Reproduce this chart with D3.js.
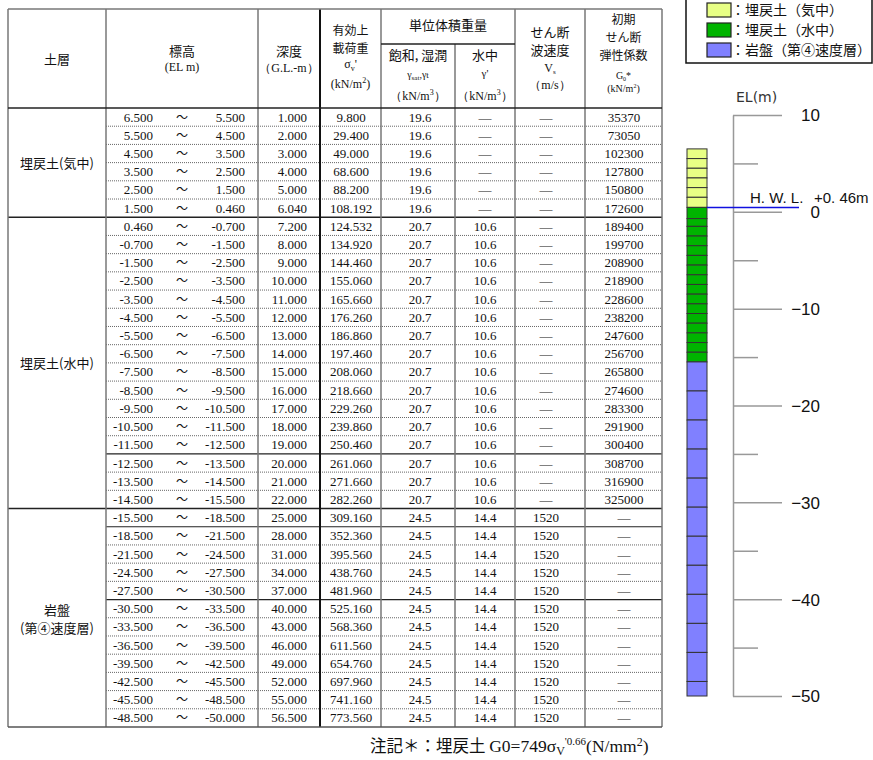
<!DOCTYPE html>
<html>
<head>
<meta charset="utf-8">
<script src="https://cdn.jsdelivr.net/npm/d3@7"></script>
<style>
body { margin: 0; background: #fff; }
text { fill: #111; }
</style>
</head>
<body>
<div id="chart"></div>
<script>
// layers
const layerNames = ["埋戻土(気中)", "埋戻土(水中)", "岩盤"];
const layerNotes = ["", "", "(第④速度層)"];
const legendNames = ["：埋戻土（気中）", "：埋戻土（水中）", "：岩盤（第④速度層）"];
const layerRows = [6, 16, 12];
const layerColors = ["#e8ff85", "#00b400", "#8080ff"];
const gammaSat = [19.6, 20.7, 24.5];
const gammaSub = [null, 10.6, 14.4];
const vsLayer = [null, null, 1520];

// rows
const elTop = [6.5, 5.5, 4.5, 3.5, 2.5, 1.5,
  0.46, -0.7, -1.5, -2.5, -3.5, -4.5, -5.5, -6.5, -7.5, -8.5, -9.5, -10.5, -11.5, -12.5, -13.5, -14.5,
  -15.5, -18.5, -21.5, -24.5, -27.5, -30.5, -33.5, -36.5, -39.5, -42.5, -45.5, -48.5];
const elBottom = [5.5, 4.5, 3.5, 2.5, 1.5, 0.46,
  -0.7, -1.5, -2.5, -3.5, -4.5, -5.5, -6.5, -7.5, -8.5, -9.5, -10.5, -11.5, -12.5, -13.5, -14.5, -15.5,
  -18.5, -21.5, -24.5, -27.5, -30.5, -33.5, -36.5, -39.5, -42.5, -45.5, -48.5, -50];
const depth = [1, 2, 3, 4, 5, 6.04,
  7.2, 8, 9, 10, 11, 12, 13, 14, 15, 16, 17, 18, 19, 20, 21, 22,
  25, 28, 31, 34, 37, 40, 43, 46, 49, 52, 55, 56.5];
const sigmaV = [9.8, 29.4, 49, 68.6, 88.2, 108.192,
  124.532, 134.92, 144.46, 155.06, 165.66, 176.26, 186.86, 197.46, 208.06, 218.66, 229.26, 239.86, 250.46, 261.06, 271.66, 282.26,
  309.16, 352.36, 395.56, 438.76, 481.96, 525.16, 568.36, 611.56, 654.76, 697.96, 741.16, 773.56];
const g0 = [35370, 73050, 102300, 127800, 150800, 172600,
  189400, 199700, 208900, 218900, 228600, 238200, 247600, 256700, 265800, 274600, 283300, 291900, 300400, 308700, 316900, 325000,
  null, null, null, null, null, null, null, null, null, null, null, null];
const solidAfter = [18, 22, 26];

// axis
const elTicks = [10, 5, 0, -5, -10, -15, -20, -25, -30, -35, -40, -45, -50];

const W = 873, H = 760;
const svg = d3.select("#chart").append("svg")
  .attr("width", W).attr("height", H);

const serif = "'Liberation Serif', 'Times New Roman', serif";
const cjk = "'Noto Sans CJK JP', sans-serif";
const dash = "—";
const f3 = v => v.toFixed(3);

// build rows
const rows = [];
let k = 0;
layerRows.forEach(function(n, li) {
  for (let i = 0; i < n; i++, k++) {
    rows.push({
      i: k, layer: li,
      top: elTop[k], bottom: elBottom[k], depth: depth[k], sigma: sigmaV[k],
      gsat: gammaSat[li], gsub: gammaSub[li], vs: vsLayer[li], g0: g0[k]
    });
  }
});

const colX = [8, 106, 258, 320, 381, 455, 515, 585, 662];
const tableTop = 9, headBottom = 108, tableBottom = 727, subHead = 44;
const rowY = d3.scaleLinear().domain([0, rows.length]).range([headBottom, tableBottom]);

const table = svg.append("g");

// row text
const rg = table.selectAll("g.row").data(rows).enter().append("g")
  .attr("transform", d => "translate(0," + ((rowY(d.i) + rowY(d.i + 1)) / 2 + 4.5) + ")")
  .style("font-family", serif).style("font-size", "13px");

rg.append("text").attr("x", 153).attr("text-anchor", "end").text(d => f3(d.top));
rg.append("text").attr("x", 182).attr("text-anchor", "middle").style("font-family", cjk)
  .style("font-size", "12px").text("～");
rg.append("text").attr("x", 245).attr("text-anchor", "end").text(d => f3(d.bottom));
rg.append("text").attr("x", 307).attr("text-anchor", "end").text(d => f3(d.depth));
rg.append("text").attr("x", 351).attr("text-anchor", "middle").text(d => f3(d.sigma));
rg.append("text").attr("x", 420).attr("text-anchor", "middle").text(d => d.gsat.toFixed(1));
rg.append("text").attr("x", 485).attr("text-anchor", "middle").text(d => d.gsub == null ? dash : d.gsub.toFixed(1));
rg.append("text").attr("x", 546).attr("text-anchor", "middle").text(d => d.vs == null ? dash : d.vs);
rg.append("text").attr("x", 624).attr("text-anchor", "middle").text(d => d.g0 == null ? dash : d.g0);

// row separators
rows.slice(0, -1).forEach(function(d) {
  const y = rowY(d.i + 1);
  if (rows[d.i + 1].layer !== d.layer) return;
  const solid = solidAfter.indexOf(d.i) >= 0;
  table.append("line")
    .attr("x1", colX[1]).attr("x2", colX[8]).attr("y1", y).attr("y2", y)
    .attr("stroke", solid ? "#222" : "#666")
    .attr("stroke-width", solid ? 1.2 : 1)
    .attr("stroke-dasharray", solid ? null : "1,1");
});

// layer boundaries + names
let acc = 0;
layerRows.forEach(function(n, li) {
  const y0 = rowY(acc), y1 = rowY(acc + n);
  acc += n;
  if (li < layerRows.length - 1) {
    table.append("line").attr("x1", colX[0]).attr("x2", colX[8]).attr("y1", y1).attr("y2", y1)
      .attr("stroke", "#222").attr("stroke-width", 1.5);
  }
  const cy = (y0 + y1) / 2;
  const t = table.append("text").attr("x", 57).attr("text-anchor", "middle")
    .style("font-family", cjk).style("font-size", "13px");
  if (layerNotes[li]) {
    t.attr("y", cy - 3).text(layerNames[li]);
    table.append("text").attr("x", 57).attr("y", cy + 15).attr("text-anchor", "middle")
      .style("font-family", cjk).style("font-size", "13px").text(layerNotes[li]);
  } else {
    t.attr("y", cy + 5).text(layerNames[li]);
  }
});

// vertical lines
colX.forEach(function(x, i) {
  table.append("line").attr("x1", x).attr("x2", x)
    .attr("y1", i === 5 ? subHead : tableTop).attr("y2", tableBottom)
    .attr("stroke", i === 3 ? "#111" : "#777")
    .attr("stroke-width", i === 3 ? 2 : 1.5);
});
table.append("line").attr("x1", colX[0]).attr("x2", colX[8]).attr("y1", tableTop).attr("y2", tableTop)
  .attr("stroke", "#777").attr("stroke-width", 1.5);
table.append("line").attr("x1", colX[0]).attr("x2", colX[8]).attr("y1", tableBottom).attr("y2", tableBottom)
  .attr("stroke", "#555").attr("stroke-width", 1.5);
table.append("line").attr("x1", colX[0]).attr("x2", colX[8]).attr("y1", headBottom).attr("y2", headBottom)
  .attr("stroke", "#222").attr("stroke-width", 1.5);
table.append("line").attr("x1", colX[4]).attr("x2", colX[6]).attr("y1", subHead).attr("y2", subHead)
  .attr("stroke", "#222").attr("stroke-width", 1.5);

// header
const head = table.append("g");
function htext(x, y, s, font, size) {
  return head.append("text").attr("x", x).attr("y", y).attr("text-anchor", "middle")
    .style("font-family", font || cjk).style("font-size", size || "13px").text(s);
}
htext(57, 64, "土層");
htext(182, 56, "標高");
htext(182, 71, "(EL m)", serif, "12px");
htext(289, 56, "深度");
htext(289, 72, "（G.L.-m）", serif, "12px");
htext(350.5, 35, "有効上", cjk, "12px");
htext(350.5, 53, "載荷重", cjk, "12px");
let t = htext(350.5, 68, "σ", serif, "12px");
t.append("tspan").attr("dy", 3).style("font-size", "8px").text("v");
t.append("tspan").attr("dy", -3).text("'");
t = htext(350.5, 88, "(kN/m", serif, "12px");
t.append("tspan").attr("dy", -5).style("font-size", "8px").text("2");
t.append("tspan").attr("dy", 5).text(")");
htext(448, 30, "単位体積重量");
htext(418, 60, "飽和, 湿潤");
t = htext(418, 78, "γ", serif, "10px");
t.append("tspan").attr("dy", 2).style("font-size", "7px").text("sat");
t.append("tspan").attr("dy", -2).text(",γ");
t.append("tspan").style("font-size", "9px").text("t");
t = htext(418, 100, "（kN/m", serif, "12px");
t.append("tspan").attr("dy", -5).style("font-size", "8px").text("3");
t.append("tspan").attr("dy", 5).text("）");
htext(485, 60, "水中");
htext(485, 77, "γ'", serif, "11px");
t = htext(485, 100, "（kN/m", serif, "12px");
t.append("tspan").attr("dy", -5).style("font-size", "8px").text("3");
t.append("tspan").attr("dy", 5).text("）");
htext(550, 37, "せん断");
htext(550, 55, "波速度");
t = htext(550, 72, "V", serif, "12px");
t.append("tspan").attr("dy", 2).style("font-size", "7px").text("s");
htext(550, 89, "（m/s）", serif, "12px");
htext(623.5, 24, "初期", cjk, "12px");
htext(623.5, 42, "せん断", cjk, "12px");
htext(623.5, 60, "弾性係数", cjk, "12px");
t = htext(623.5, 79, "G", serif, "10px");
t.append("tspan").attr("dy", 2).style("font-size", "6px").text("0");
t.append("tspan").attr("dy", -2).text("*");
t = htext(623.5, 92, "(kN/m", serif, "10px");
t.append("tspan").attr("dy", -4).style("font-size", "6px").text("2");
t.append("tspan").attr("dy", 4).text(")");

// footnote
const note = svg.append("text").attr("x", 370).attr("y", 752)
  .style("font-family", cjk).style("font-size", "16.5px");
note.append("tspan").text("注記＊：埋戻土 ");
note.append("tspan").style("font-family", serif).style("font-size", "17.5px").text("G0=749σ");
note.append("tspan").style("font-family", serif).style("font-size", "12px").attr("dy", 3).text("V");
note.append("tspan").style("font-family", serif).style("font-size", "11px").attr("dy", -10).text("'0.66");
note.append("tspan").style("font-family", serif).style("font-size", "17.5px").attr("dy", 7).text("(N/mm");
note.append("tspan").style("font-family", serif).style("font-size", "12px").attr("dy", -6).text("2");
note.append("tspan").style("font-family", serif).style("font-size", "17.5px").attr("dy", 6).text(")");

// elevation column
const y = d3.scaleLinear().domain([10, -50]).range([115, 696]);
const colLeft = 687, colRight = 707;
const axisX = 733;

svg.append("g").selectAll("rect").data(rows).enter().append("rect")
  .attr("x", colLeft).attr("width", colRight - colLeft)
  .attr("y", d => y(d.top)).attr("height", d => y(d.bottom) - y(d.top))
  .attr("fill", d => layerColors[d.layer])
  .attr("stroke", "#333").attr("stroke-width", 1);

// axis
const ax = svg.append("g").attr("transform", "translate(" + axisX + ",0)")
  .call(d3.axisRight(y).tickValues(elTicks).tickSizeOuter(0).tickSize(0).tickFormat(""));
ax.select(".domain").attr("stroke", "#999").attr("stroke-width", 1.5);
ax.selectAll(".tick line")
  .attr("x2", d => d % 10 === 0 ? 49 : 25)
  .attr("stroke", "#999").attr("stroke-width", 1.5);
ax.selectAll(".tick").filter(d => d % 10 === 0).append("text")
  .attr("x", 87).attr("dy", "0.35em").attr("text-anchor", "end")
  .style("font-family", "'Liberation Sans', Arial, sans-serif").style("font-size", "17px")
  .style("fill", "#111")
  .text(d => d < 0 ? "−" + Math.abs(d) : d);

svg.append("text").attr("x", 736).attr("y", 102)
  .style("font-family", "'DejaVu Sans', sans-serif").style("font-size", "14px").style("fill", "#333")
  .text("EL(m)");

// H.W.L.
const hwl = 0.46;
svg.append("line").attr("x1", colRight).attr("x2", 799).attr("y1", y(hwl)).attr("y2", y(hwl))
  .attr("stroke", "#1010e0").attr("stroke-width", 1.5);
svg.append("text").attr("x", 750).attr("y", 203)
  .style("font-family", "'Liberation Sans', sans-serif").style("font-size", "15px")
  .text("H. W. L.");
svg.append("text").attr("x", 814).attr("y", 203)
  .style("font-family", "'Liberation Sans', sans-serif").style("font-size", "15px")
  .text("+0. 46m");

// legend
const lg = svg.append("g");
lg.append("rect").attr("x", 686).attr("y", -1).attr("width", 186).attr("height", 64)
  .attr("fill", "#fff").attr("stroke", "#111").attr("stroke-width", 1.5);
legendNames.forEach(function(name, i) {
  const yy = 3 + i * 20;
  lg.append("rect").attr("x", 707).attr("y", yy).attr("width", 24).attr("height", 14)
    .attr("fill", layerColors[i]).attr("stroke", "#222").attr("stroke-width", 1.2);
  lg.append("text").attr("x", 731).attr("y", yy + 12)
    .style("font-family", cjk).style("font-size", "14px").text(name);
});
</script>
</body>
</html>
